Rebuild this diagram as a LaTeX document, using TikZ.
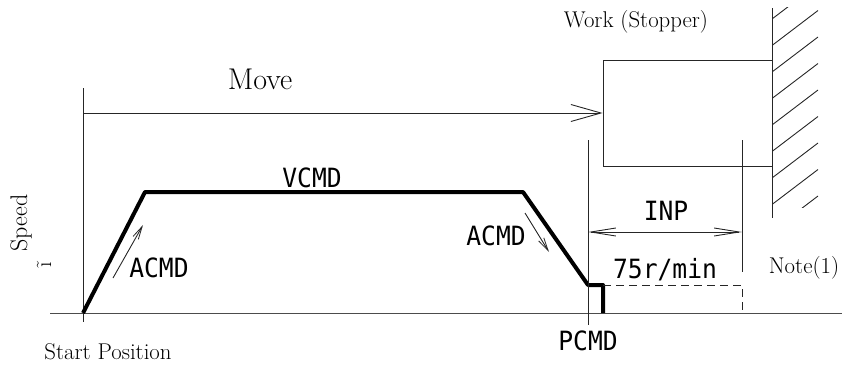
\documentclass[tikz,border=0pt]{standalone}
\usepackage{fontspec}
\newfontfamily\gothic[FakeStretch=0.93]{DejaVu Sans Mono}
\usetikzlibrary{arrows.meta}
\tikzset{
  thin line/.style={line width=0.9pt, draw=black!85},
  profile/.style={line width=4pt, line join=round, draw=black},
  gothlabel/.style={font=\gothic\fontsize{26.5}{30}\selectfont, inner sep=0pt, anchor=base},
  serlabel/.style={font=\fontsize{22.8}{26}\selectfont, inner sep=0pt, anchor=base},
  bigbarb/.style={-{Straight Barb[length=30pt,width=17pt,line width=0.9pt]}},
  dimbarb/.style={{Straight Barb[length=25pt,width=8pt,line width=0.9pt]}-{Straight Barb[length=25pt,width=8pt,line width=0.9pt]}},
  smallbarb/.style={-{Straight Barb[length=13pt,width=6pt,line width=0.8pt]}},
}
\begin{document}
\begin{tikzpicture}[x=1pt,y=-1pt]
\useasboundingbox (0,0) rectangle (842,367);
% coordinates
\coordinate (bl) at (50,313);
\coordinate (br) at (842,313);
\coordinate (O) at (83,313);
\coordinate (axtop) at (83,88);
\coordinate (axbot) at (83,322);
\coordinate (p1) at (145,192);
\coordinate (p2) at (523,192);
\coordinate (p3) at (588,285);
\coordinate (p4) at (603,285);
\coordinate (p5) at (603,313);
\coordinate (pctop) at (588,140);
\coordinate (pcbot) at (588,325);
\coordinate (intop) at (742,140);
\coordinate (inbot) at (742,272);
\coordinate (dc) at (742,285);
\coordinate (db) at (742,313);
\coordinate (wtop) at (772,8);
\coordinate (wbot) at (772,218);
\coordinate (mvs) at (83,113);
\coordinate (inl) at (588,232);
\coordinate (inr) at (742,232);
\coordinate (a1s) at (113,278);
\coordinate (a1e) at (143,225);
\coordinate (a2s) at (525,213);
\coordinate (a2e) at (549,252);

% work box
\node[thin line, draw, minimum width=169pt, minimum height=106pt, inner sep=0pt] (work) at (687.5,113) {};

% wall with hatching
\draw[thin line] (wtop) -- (wbot);
\begin{scope}
\clip (772,7) rectangle (818,207);
\foreach \k in {0,...,8} {
  \draw[thin line] (772,19+26.5*\k) -- (818,-16+26.5*\k);
}
\end{scope}

% axes
\draw[thin line, draw=black!70] (bl) -- (br);
\draw[thin line] (axtop) -- (axbot);

% move arrow
\draw[thin line, bigbarb] (mvs) -- (work.west);

% speed profile
\draw[profile] (O) -- (p1) -- (p2) -- (p3) -- (p4) -- (p5);

% guide lines
\draw[thin line] (pctop) -- (pcbot);
\draw[thin line] (intop) -- (inbot);
\draw[thin line, dash pattern=on 8pt off 5pt] (p4) -- (dc) -- (db);

% INP dimension
\draw[thin line, dimbarb] (inl) -- (inr);

% ACMD arrows
\draw[thin line, smallbarb] (a1s) -- (a1e);
\draw[thin line, smallbarb] (a2s) -- (a2e);

% labels
\node[serlabel, font=\fontsize{30}{34}\selectfont] (move) at (260,89) {Move};
\node[gothlabel] (vcmd) at (312,187) {VCMD};
\node[gothlabel] (acmd1) at (159,277) {ACMD};
\node[gothlabel] (acmd2) at (496,245) {ACMD};
\node[gothlabel] (inp) at (666,220) {INP};
\node[gothlabel] (spd75) at (665,278) {75r/min};
\node[gothlabel] (pcmd) at (588,350) {PCMD};
\node[serlabel] (workl) at (636,27) {Work (Stopper)};
\node[serlabel] (note) at (804,273) {Note(1)};
\node[serlabel] (start) at (108,359) {Start Position};
\node[font=\fontsize{24}{28}\selectfont, inner sep=0pt, rotate=90] (speed) at (21,223) {Speed};
\node[font=\fontsize{22}{26}\selectfont, inner sep=0pt, rotate=90] (tl) at (44,265) {ĩ};
\end{tikzpicture}
\end{document}
